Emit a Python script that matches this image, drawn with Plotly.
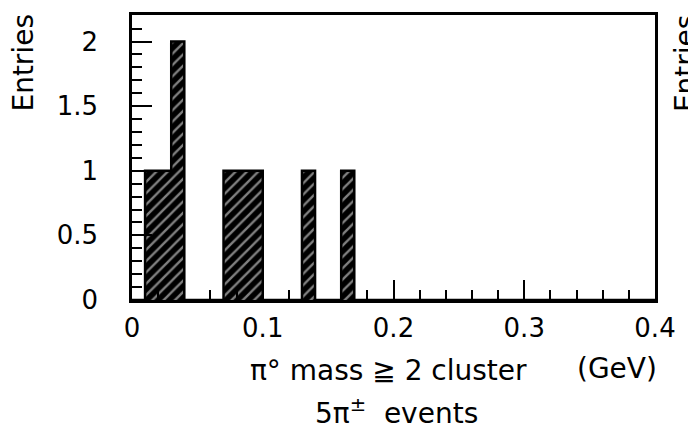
import plotly.graph_objects as go
import numpy as np

# Histogram data (bin width 0.01 GeV)
bin_width = 0.01
bin_lefts = [0.01, 0.02, 0.03, 0.07, 0.08, 0.09, 0.13, 0.16]
counts = [1, 1, 2, 1, 1, 1, 1, 1]

x_ticks = [0, 0.1, 0.2, 0.3, 0.4]
x_ticktext = ["0", "0.1", "0.2", "0.3", "0.4"]
y_ticks = [0, 0.5, 1, 1.5, 2]
y_ticktext = ["0", "0.5", "1", "1.5", "2"]

centers = [l + bin_width / 2 for l in bin_lefts]

# full step outline built from the histogram
nb = 40
edges = np.round(np.arange(nb + 1) * bin_width, 4)
full = np.zeros(nb)
for l, c in zip(bin_lefts, counts):
    full[int(round(l / bin_width))] = c
step_x = list(edges)
step_y = list(full) + [full[-1]]

W, H = 688, 430
L, R, T, B = 132, 29.5, 14, 130
pw, ph = W - L - R, H - T - B

def px(x):
    return (x - L) / pw

def py(y):
    return (H - B - y) / ph

FONT = "DejaVu Sans"

fig = go.Figure()
fig.add_trace(go.Bar(
    x=centers, y=counts, width=bin_width,
    marker=dict(color="black", line=dict(width=0),
                pattern=dict(shape="/", fgcolor="white", size=8, solidity=0.3,
                             fillmode="overlay")),
    showlegend=False,
))
fig.add_trace(go.Scatter(
    x=step_x, y=step_y, mode="lines", line=dict(color="black", width=2.5, shape="hv"),
    showlegend=False, cliponaxis=True,
))

fig.update_layout(
    width=W, height=H,
    margin=dict(l=L, r=R, t=T, b=B, pad=0),
    plot_bgcolor="white", paper_bgcolor="white",
    bargap=0,
    font=dict(family=FONT, color="black", size=26),
)
fig.update_xaxes(
    range=[0, 0.4], tickvals=x_ticks, ticktext=x_ticktext,
    ticks="inside", ticklen=20, tickwidth=2, tickcolor="black",
    minor=dict(dtick=0.02, ticks="inside", ticklen=10, tickwidth=2, tickcolor="black"),
    showline=True, linewidth=2.5, linecolor="black", mirror=True,
    showgrid=False, zeroline=False,
    tickfont=dict(family=FONT, size=26), ticklabelstandoff=3,
)
fig.update_yaxes(
    range=[0, 2.205], tickvals=y_ticks, ticktext=y_ticktext,
    ticks="inside", ticklen=20, tickwidth=2, tickcolor="black",
    minor=dict(dtick=0.1, ticks="inside", ticklen=10, tickwidth=2, tickcolor="black"),
    showline=True, linewidth=2.5, linecolor="black", mirror=True,
    showgrid=False, zeroline=False,
    tickfont=dict(family=FONT, size=26), ticklabelstandoff=26,
)

anns = [
    dict(text="Entries", x=px(23), y=py(62), textangle=-90, font=dict(size=28)),
    dict(text="Entries", x=px(690), y=py(62), textangle=-90, font=dict(size=28)),
    dict(text="π° mass ≧ 2 cluster", x=px(390), y=py(371), font=dict(size=28)),
    dict(text="(GeV)", x=px(620), y=py(369), font=dict(size=28)),
    dict(text="5π<sup>±</sup>  events", x=px(398), y=py(412), font=dict(size=28)),
]
for a in anns:
    fig.add_annotation(xref="paper", yref="paper", showarrow=False,
                       xanchor="center", yanchor="middle", **a)

fig.write_html("out.html")
